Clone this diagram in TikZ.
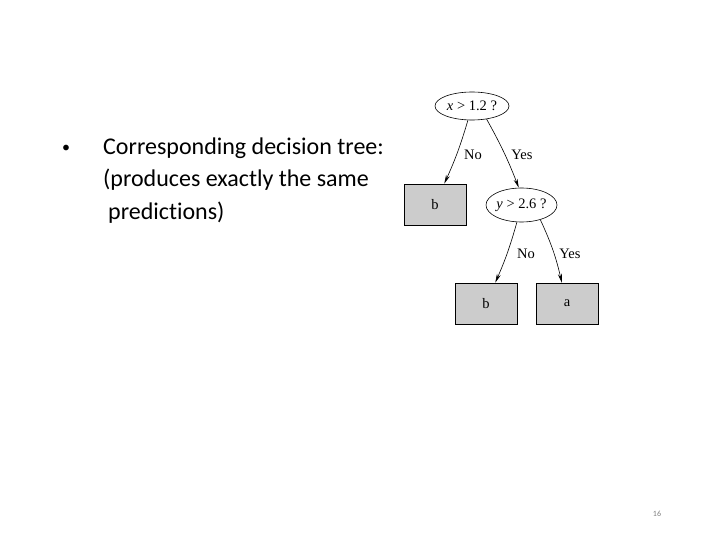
\documentclass[tikz,border=0pt]{standalone}
\usepackage{fontspec}
\setmainfont[Ligatures=NoCommon]{Carlito}
\newfontfamily\treefont{Liberation Serif}
\usetikzlibrary{arrows.meta,shapes.geometric}

\begin{document}
\begin{tikzpicture}[x=1pt,y=-1pt,font=\fontsize{24}{24}\selectfont,
  test/.style={draw,ellipse,semithick,minimum width=74pt,minimum height=28pt,inner sep=0pt,font=\treefont\fontsize{14.5}{14.5}\selectfont},
  leaf/.style={draw,semithick,fill=gray!40,minimum width=62pt,minimum height=41pt,inner sep=0pt,font=\treefont\fontsize{14.5}{14.5}\selectfont},
  edge/.style={-{Stealth[length=9pt,width=4pt]},semithick},
  lbl/.style={font=\treefont\fontsize{14.5}{14.5}\selectfont}]
\useasboundingbox (0,0) rectangle (720,540);
% bullet text
\node[anchor=base,font=\fontsize{16}{16}\selectfont] (dot) at (66,153) {\textbullet};
\foreach \i/\x/\txt in {0/103/Corresponding decision tree:,1/103/(produces exactly the same,2/108/predictions)}
  \node[anchor=base west,inner sep=0pt] (line\i) at (\x,155+\i*32) {\txt};
% tree
\node[test] (xt) at (472,106) {\textit{x} > 1.2 ?};
\node[test,minimum width=71pt,minimum height=34pt] (yt) at (521.5,205) {\textit{y} > 2.6 ?};
\node[leaf] (b1) at (435,204.5) {b};
\node[leaf] (b2) at (486,303.5) {b};
\node[leaf] (a) at (567,303.5) {a};
\draw[edge] (xt.254) to[bend left=4] (b1.66);
\draw[edge] (xt.318) to[bend left=4] (yt.99);
\draw[edge] (yt.255) to[bend left=4] (b2.66);
\draw[edge] (yt.322) to[bend left=6] (a.104);
\node[lbl] (no1) at (473,155) {No};
\node[lbl] (yes1) at (522,155) {Yes};
\node[lbl] (no2) at (526,254) {No};
\node[lbl] (yes2) at (570,254) {Yes};
% page number
\node[gray,font=\fontsize{8}{8}\selectfont] (pg) at (657,514) {16};
\end{tikzpicture}
\end{document}
